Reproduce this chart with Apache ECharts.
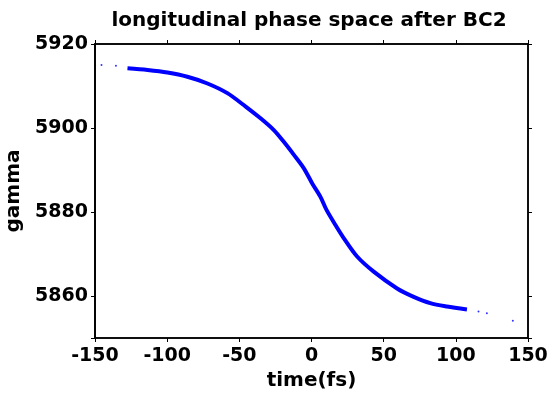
<!DOCTYPE html>
<html>
<head>
<meta charset="utf-8">
<script src="https://cdn.jsdelivr.net/npm/echarts@6/dist/echarts.min.js"></script>
<style>
  html, body { margin: 0; padding: 0; background: #fff; }
  #chart { width: 550px; height: 398px; }
</style>
</head>
<body>
<div id="chart"></div>
<script>
// 读图得到的数据 (time in fs, gamma)
const bandTime = [-127.5, -113.6, -99.8, -86.0, -72.1, -58.3, -45.6, -35.3, -26.1, -19.2, -12.2, -5.3, 0.5, 6.2, 10.4, 16.6, 22.3, 31.6, 43.1, 59.3, 70.8, 82.3, 93.8, 107.7]
const bandGamma = [5914.2, 5913.8, 5913.2, 5912.2, 5910.6, 5908.3, 5905.1, 5902.3, 5899.5, 5896.7, 5893.6, 5890.4, 5886.8, 5883.6, 5880.5, 5876.9, 5873.8, 5869.4, 5865.8, 5861.8, 5859.8, 5858.3, 5857.5, 5856.8]
const strayTime = [-145.5, -135.5, 115.7, 121.5, 139.5]
const strayGamma = [5915.0, 5914.8, 5856.3, 5855.9, 5854.1]
const yTicks = [5860, 5880, 5900, 5920]

const font = 'DejaVu Sans'
const chart = echarts.init(document.getElementById('chart'))

function line() {
  return {show: true, onZero: false, lineStyle: {color: '#000', width: 1.5}}
}
function ticks() {
  return {show: true, length: 4}
}
// 反向的刻度轴: 从5920往下每20一个刻度 (只画刻度, 不画标签)
function tickAxis(pos) {
  return {
    type: 'value', min: 5850, max: 5920, interval: 20, inverse: true, position: pos,
    axisLine: line(), splitLine: {show: false}, axisTick: ticks(), axisLabel: {show: false}
  }
}

chart.setOption({
  animation: false,
  title: {
    text: 'longitudinal phase space after BC2',
    left: 304, top: 6, textAlign: 'center',
    textStyle: {fontFamily: font, fontWeight: 'bold', fontSize: 20, color: '#000'}
  },
  grid: {left: 95, right: 22, top: 44, bottom: 60, outerBoundsMode: 'none',
    show: true, borderColor: '#000', borderWidth: 1.5},
  xAxis: [{
    type: 'value', min: -150, max: 150, interval: 50,
    name: 'time(fs)', nameLocation: 'middle', nameGap: 32,
    nameTextStyle: {fontFamily: font, fontWeight: 'bold', fontSize: 20, color: '#000'},
    axisLine: line(), splitLine: {show: false}, axisTick: ticks(),
    axisLabel: {fontFamily: font, fontWeight: 'bold', fontSize: 19, color: '#000', margin: 9}
  }, {
    type: 'value', min: -150, max: 150, interval: 50, position: 'top',
    axisLine: line(), splitLine: {show: false}, axisTick: ticks(),
    axisLabel: {show: false}
  }],
  yAxis: [{
    type: 'value', min: 5850, max: 5920,
    name: 'gamma', nameLocation: 'middle', nameGap: 64,
    nameTextStyle: {fontFamily: font, fontWeight: 'bold', fontSize: 20, color: '#000'},
    axisLine: line(), splitLine: {show: false}, axisTick: {show: false},
    axisLabel: {fontFamily: font, fontWeight: 'bold', fontSize: 19, color: '#000', margin: 7,
      customValues: yTicks, formatter: v => String(v)}
  }, tickAxis('right'), tickAxis('left')],
  series: [{
    type: 'line',
    data: bandTime.map((t, i) => [t, bandGamma[i]]),
    smooth: 0.3,
    showSymbol: false,
    lineStyle: {color: '#0000ff', width: 4}
  }, {
    type: 'scatter',
    data: strayTime.map((t, i) => [t, strayGamma[i]]),
    symbolSize: 2,
    itemStyle: {color: '#0000ff'}
  }, {
    // 空系列, 让另外几条轴也画出来
    type: 'scatter', xAxisIndex: 1, yAxisIndex: 1, data: []
  }, {
    type: 'scatter', xAxisIndex: 1, yAxisIndex: 2, data: []
  }]
})
</script>
</body>
</html>
